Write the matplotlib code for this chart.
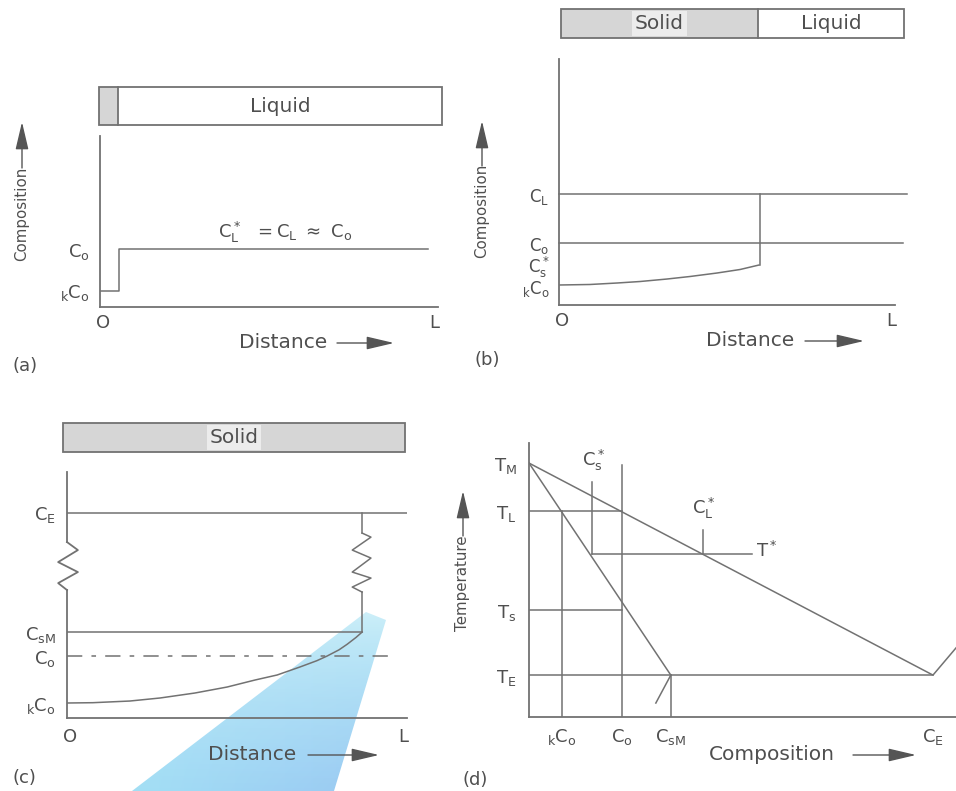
import numpy as np
import matplotlib
matplotlib.use('Agg')
import matplotlib.pyplot as plt
from matplotlib import font_manager
from matplotlib.patches import Rectangle, Polygon, FancyArrowPatch

W, H = 956, 791
LINE = '#727272'
TEXT = '#4f4f4f'
SHADE = '#d6d6d6'
LW = 1.1
FS = 13          # tick-style labels
FS_AX = 14.5     # horizontal axis names
FS_BAR = 14.5    # labels inside the bars

_names = {f.name for f in font_manager.fontManager.ttflist}
if 'Liberation Sans Narrow' in _names:
    ROT_FAM, FS_ROT = ['Liberation Sans Narrow', 'DejaVu Sans'], 13.5
else:
    ROT_FAM, FS_ROT = ['DejaVu Sans'], 10.8

plt.rcParams['font.family'] = ['DejaVu Sans']
plt.rcParams['mathtext.fontset'] = 'dejavusans'

# ------------------------------------------------------------------ data
# (a) initial transient, composition in units of C0, distance in units of L
a_dist = [0.0, 0.056, 0.056, 0.97]
a_comp = [0.28, 0.28, 1.0, 1.0]
a_yticks = [0.28, 1.0]
a_ylabels = [r'$\mathregular{{}_kC_o}$', r'$\mathregular{C_o}$']
a_solid_frac = 0.055
a_ymax = 2.95

# (b) steady state
b_interface = 0.598
b_CL = 1.79
b_C0 = 1.0
b_Cs_star = 0.645
b_kC0 = 0.32
b_CL_end = 1.036
b_C0_end = 1.024
b_solid_dist = [0.003, 0.092, 0.173, 0.241, 0.321, 0.390, 0.470, 0.539, 0.595]
b_solid_comp = [0.323, 0.331, 0.355, 0.379, 0.419, 0.460, 0.516, 0.573, 0.645]
b_yticks = [0.30, 0.66, 1.0, 1.79]
b_ylabels = [r'$\mathregular{{}_kC_o}$', r'$\mathregular{C_s^*}$',
             r'$\mathregular{C_o}$', r'$\mathregular{C_L}$']
b_solid_frac = 0.574
b_ymax = 3.97

# (c) final solid profile
c_CE = 3.31
c_CsM = 1.387
c_C0 = 1.0
c_kC0 = 0.242
c_end = 0.868
c_C0_end = 0.97
c_solid_dist = [0.0, 0.076, 0.185, 0.274, 0.376, 0.471, 0.553, 0.618,
                0.685, 0.735, 0.765, 0.800, 0.824, 0.850, 0.868]
c_solid_comp = [0.242, 0.247, 0.274, 0.323, 0.403, 0.500, 0.613, 0.694,
                0.823, 0.925, 1.000, 1.100, 1.190, 1.300, 1.387]
c_zig_left_y = [2.839, 2.710, 2.516, 2.355, 2.177, 2.065]
c_zig_left_dx = [0.0, 0.032, -0.026, 0.032, -0.026, 0.0]
c_zig_right_y = [2.984, 2.919, 2.710, 2.581, 2.355, 2.258, 2.113, 2.032]
c_zig_right_dx = [0.0, 0.026, -0.029, 0.026, -0.029, 0.026, -0.029, 0.0]
c_yticks = [0.242, 1.0, 1.387, 3.31]
c_ylabels = [r'$\mathregular{{}_kC_o}$', r'$\mathregular{C_o}$',
             r'$\mathregular{C_{sM}}$', r'$\mathregular{C_E}$']
c_ymax = 3.97

# (d) phase diagram (composition 0..CE=100, temperature 0..TM=100)
d_TM, d_TL, d_Ts, d_Tstar, d_TE = 100.0, 81.1, 42.1, 64.2, 16.5
d_kC0, d_C0, d_Cs_star, d_CL_star, d_CsM, d_CE = 8.2, 23.0, 15.6, 43.1, 35.1, 100.0
d_liq_comp = [0.0, 100.0, 105.7]
d_liq_temp = [100.0, 16.5, 27.2]
d_sol_comp = [0.0, 35.1]
d_sol_temp = [100.0, 16.5]
d_C0_top = 99.2
d_Cs_star_top = 92.5
d_CL_star_top = 73.6
d_Tstar_end = 55.2
d_tail_comp = [35.1, 31.4]
d_tail_temp = [16.5, 5.5]
d_xticks = [8.2, 23.0, 35.1, 100.0]
d_xlabels = [r'$\mathregular{{}_kC_o}$', r'$\mathregular{C_o}$',
             r'$\mathregular{C_{sM}}$', r'$\mathregular{C_E}$']
d_yticks = [16.5, 42.1, 81.1, 100.0]
d_ylabels = [r'$\mathregular{T_E}$', r'$\mathregular{T_s}$',
             r'$\mathregular{T_L}$', r'$\mathregular{T_M}$']

# ------------------------------------------------------------------ helpers
fig = plt.figure(figsize=(W / 100, H / 100), dpi=100)
fig.patch.set_facecolor('white')


def fx(px):
    return px / W


def fy(py):
    return 1 - py / H


def add_ax(x0, y0, x1, y1, z=1):
    ax = fig.add_axes([fx(x0), fy(y1), (x1 - x0) / W, (y1 - y0) / H])
    ax.patch.set_visible(False)
    ax.set_zorder(z)
    return ax


def style_axes(ax, left=True):
    for s in ['top', 'right']:
        ax.spines[s].set_visible(False)
    ax.spines['left'].set_visible(left)
    for s in ['left', 'bottom']:
        ax.spines[s].set_color(LINE)
        ax.spines[s].set_linewidth(1.3)
    ax.tick_params(length=0, labelcolor=TEXT, labelsize=FS)


def arrow_h(x0, x1, y):
    fig.add_artist(FancyArrowPatch((fx(x0), fy(y)), (fx(x1), fy(y)),
                                   transform=fig.transFigure,
                                   arrowstyle='-|>,head_length=0.85,head_width=0.2',
                                   mutation_scale=20, color='#555555', lw=1.0,
                                   shrinkA=0, shrinkB=0))


def arrow_v(x, y0, y1):
    fig.add_artist(FancyArrowPatch((fx(x), fy(y0)), (fx(x), fy(y1)),
                                   transform=fig.transFigure,
                                   arrowstyle='-|>,head_length=0.85,head_width=0.2',
                                   mutation_scale=20, color='#555555', lw=1.0,
                                   shrinkA=0, shrinkB=0))


def rot_label(x, y, txt):
    fig.text(fx(x), fy(y), txt, rotation=90, ha='center', va='center',
             fontsize=FS_ROT, color=TEXT, family=ROT_FAM)


def bar(x0, y0, x1, y1, frac, labels):
    bx = add_ax(x0, y0, x1, y1)
    bx.set_xlim(0, 1)
    bx.set_ylim(0, 1)
    bx.axis('off')
    bx.add_patch(Rectangle((0, 0), frac, 1, facecolor=SHADE, edgecolor='none'))
    bx.add_patch(Rectangle((0, 0), 1, 1, facecolor='none', edgecolor=LINE,
                           lw=1.3, clip_on=False))
    if 0 < frac < 1:
        bx.plot([frac, frac], [0, 1], color=LINE, lw=1.3, clip_on=False)
    for xc, txt, shaded in labels:
        kw = {}
        if shaded:
            kw['bbox'] = dict(facecolor='#ececec', edgecolor='none', pad=2)
        bx.text(xc, 0.5, txt, ha='center', va='center', fontsize=FS_BAR,
                color=TEXT, **kw)
    return bx


# ------------------------------------------------------------------ blue scan artefact
bg = fig.add_axes([0, 0, 1, 1])
bg.set_zorder(0)
bg.set_xlim(0, W)
bg.set_ylim(H, 0)
bg.axis('off')
gy = np.linspace(0, 1, 200)[:, None]
gx = np.linspace(0, 1, 200)[None, :]
img = np.zeros((200, 200, 4))
img[..., 0] = 0.62 - 0.04 * gx
img[..., 1] = 0.87 - 0.10 * gx * gy
img[..., 2] = 0.96 - 0.01 * gx
img[..., 3] = 0.35 + 0.6 * gy ** 0.5 * np.ones_like(gx)
beam = bg.imshow(img, extent=[130, 390, 791, 605], aspect='auto',
                 interpolation='bilinear')
poly = Polygon([[366, 612], [386, 620], [334, 791], [132, 791]],
               closed=True, transform=bg.transData, facecolor='none',
               edgecolor='none')
bg.add_patch(poly)
beam.set_clip_path(poly)

# ------------------------------------------------------------------ (a)
bar(99, 87, 442, 125, a_solid_frac, [((a_solid_frac + 1) / 2, 'Liquid', False)])
ax = add_ax(100, 136, 438, 307)
style_axes(ax)
ax.set_xlim(0, 1)
ax.set_ylim(0, a_ymax)
ax.plot(a_dist, a_comp, color=LINE, lw=LW)
ax.set_yticks(a_yticks, a_ylabels)
ax.set_xticks([0.01, 0.99], ['O', 'L'])
ax.tick_params(axis='y', pad=7)
ax.tick_params(axis='x', pad=5)
ax.text(0.35, 1.29, r'$\mathregular{C_L^*\ \ =C_L\ \approx\ C_o}$',
        fontsize=FS, color=TEXT, va='center', ha='left')
rot_label(22, 214, 'Composition')
arrow_v(22, 168, 122)
fig.text(fx(239), fy(343), 'Distance', ha='left', va='center',
         fontsize=FS_AX, color=TEXT)
arrow_h(337, 394, 343)
fig.text(fx(12), fy(366), '(a)', ha='left', va='center', fontsize=FS,
         color=TEXT)

# ------------------------------------------------------------------ (b)
bar(561, 9, 904, 38, b_solid_frac,
    [(b_solid_frac / 2, 'Solid', True), ((b_solid_frac + 1) / 2, 'Liquid', False)])
ax = add_ax(559, 59, 895, 305)
style_axes(ax)
ax.set_xlim(0, 1)
ax.set_ylim(0, b_ymax)
ax.plot([0, b_CL_end], [b_CL, b_CL], color=LINE, lw=LW, clip_on=False)
ax.plot([0, b_C0_end], [b_C0, b_C0], color=LINE, lw=LW, clip_on=False)
ax.plot([b_interface, b_interface], [b_Cs_star, b_CL], color=LINE, lw=LW)
ax.plot(b_solid_dist, b_solid_comp, color=LINE, lw=LW)
ax.set_yticks(b_yticks, b_ylabels)
ax.set_xticks([0.01, 0.99], ['O', 'L'])
ax.tick_params(axis='y', pad=7, labelsize=12)
ax.tick_params(axis='x', pad=5, labelsize=FS)
rot_label(482, 211, 'Composition')
arrow_v(482, 166, 121)
fig.text(fx(706), fy(341), 'Distance', ha='left', va='center',
         fontsize=FS_AX, color=TEXT)
arrow_h(805, 864, 341)
fig.text(fx(475), fy(360), '(b)', ha='left', va='center', fontsize=FS,
         color=TEXT)

# ------------------------------------------------------------------ (c)
bar(63, 423, 405, 452, 1.0, [(0.5, 'Solid', True)])
ax = add_ax(67, 472, 407, 718)
style_axes(ax, left=False)
ax.set_xlim(0, 1)
ax.set_ylim(0, c_ymax)
# left axis with break
ax.plot([0, 0], [0, c_zig_left_y[-1]], color=LINE, lw=1.3, clip_on=False)
ax.plot(c_zig_left_dx, c_zig_left_y, color=LINE, lw=1.3, clip_on=False)
ax.plot([0, 0], [c_zig_left_y[0], c_ymax], color=LINE, lw=1.3, clip_on=False)
# right boundary with break
ax.plot([c_end, c_end], [c_CsM, c_zig_right_y[-1]], color=LINE, lw=LW)
ax.plot([c_end + d for d in c_zig_right_dx], c_zig_right_y, color=LINE, lw=LW)
ax.plot([c_end, c_end], [c_zig_right_y[0], c_CE], color=LINE, lw=LW)
ax.plot([0, 1], [c_CE, c_CE], color=LINE, lw=LW)
ax.plot([0, c_end], [c_CsM, c_CsM], color=LINE, lw=LW)
ax.plot([0, c_C0_end], [c_C0, c_C0], color=LINE, lw=LW,
        linestyle=(0, (10, 6, 3, 6)))
ax.plot(c_solid_dist, c_solid_comp, color=LINE, lw=LW)
ax.set_yticks(c_yticks, c_ylabels)
ax.set_xticks([0.01, 0.99], ['O', 'L'])
ax.tick_params(axis='y', pad=8)
ax.tick_params(axis='x', pad=7)
fig.text(fx(208), fy(755), 'Distance', ha='left', va='center',
         fontsize=FS_AX, color=TEXT, zorder=5)
arrow_h(308, 379, 755)
fig.text(fx(12), fy(778), '(c)', ha='left', va='center', fontsize=FS,
         color=TEXT)

# ------------------------------------------------------------------ (d)
ax = add_ax(529, 443, 956, 717)
style_axes(ax)
ax.set_xlim(0, 105.7)
ax.set_ylim(0, 107.9)
ax.plot(d_liq_comp, d_liq_temp, color=LINE, lw=LW)
ax.plot(d_sol_comp, d_sol_temp, color=LINE, lw=LW)
ax.plot([0, d_CE], [d_TE, d_TE], color=LINE, lw=LW)
ax.plot([0, d_C0], [d_TL, d_TL], color=LINE, lw=LW)
ax.plot([0, d_C0], [d_Ts, d_Ts], color=LINE, lw=LW)
ax.plot([d_kC0, d_kC0], [0, d_TL], color=LINE, lw=LW)
ax.plot([d_C0, d_C0], [0, d_C0_top], color=LINE, lw=LW)
ax.plot([d_CsM, d_CsM], [0, d_TE], color=LINE, lw=LW)
ax.plot(d_tail_comp, d_tail_temp, color=LINE, lw=LW)
ax.plot([d_Cs_star, d_Tstar_end], [d_Tstar, d_Tstar], color=LINE, lw=LW)
ax.plot([d_Cs_star, d_Cs_star], [d_Tstar, d_Cs_star_top], color=LINE, lw=LW)
ax.plot([d_CL_star, d_CL_star], [d_Tstar, d_CL_star_top], color=LINE, lw=LW)
ax.text(d_Cs_star + 0.5, d_Cs_star_top + 3.5, r'$\mathregular{C_s^*}$',
        ha='center', va='bottom', fontsize=FS, color=TEXT)
ax.text(d_CL_star, d_CL_star_top + 3.5, r'$\mathregular{C_L^*}$',
        ha='center', va='bottom', fontsize=FS, color=TEXT)
ax.text(d_Tstar_end + 1.0, d_Tstar + 1, r'$\mathregular{T^*}$',
        ha='left', va='center', fontsize=FS, color=TEXT)
ax.set_xticks(d_xticks, d_xlabels)
ax.set_yticks(d_yticks, d_ylabels)
ax.tick_params(axis='y', pad=9)
ax.tick_params(axis='x', pad=7)
rot_label(463, 583, 'Temperature')
arrow_v(463, 536, 491)
fig.text(fx(709), fy(755), 'Composition', ha='left', va='center',
         fontsize=FS_AX, color=TEXT)
arrow_h(853, 916, 755)
fig.text(fx(463), fy(780), '(d)', ha='left', va='center', fontsize=FS,
         color=TEXT)

fig.savefig('out.png', dpi=100, facecolor='white')
